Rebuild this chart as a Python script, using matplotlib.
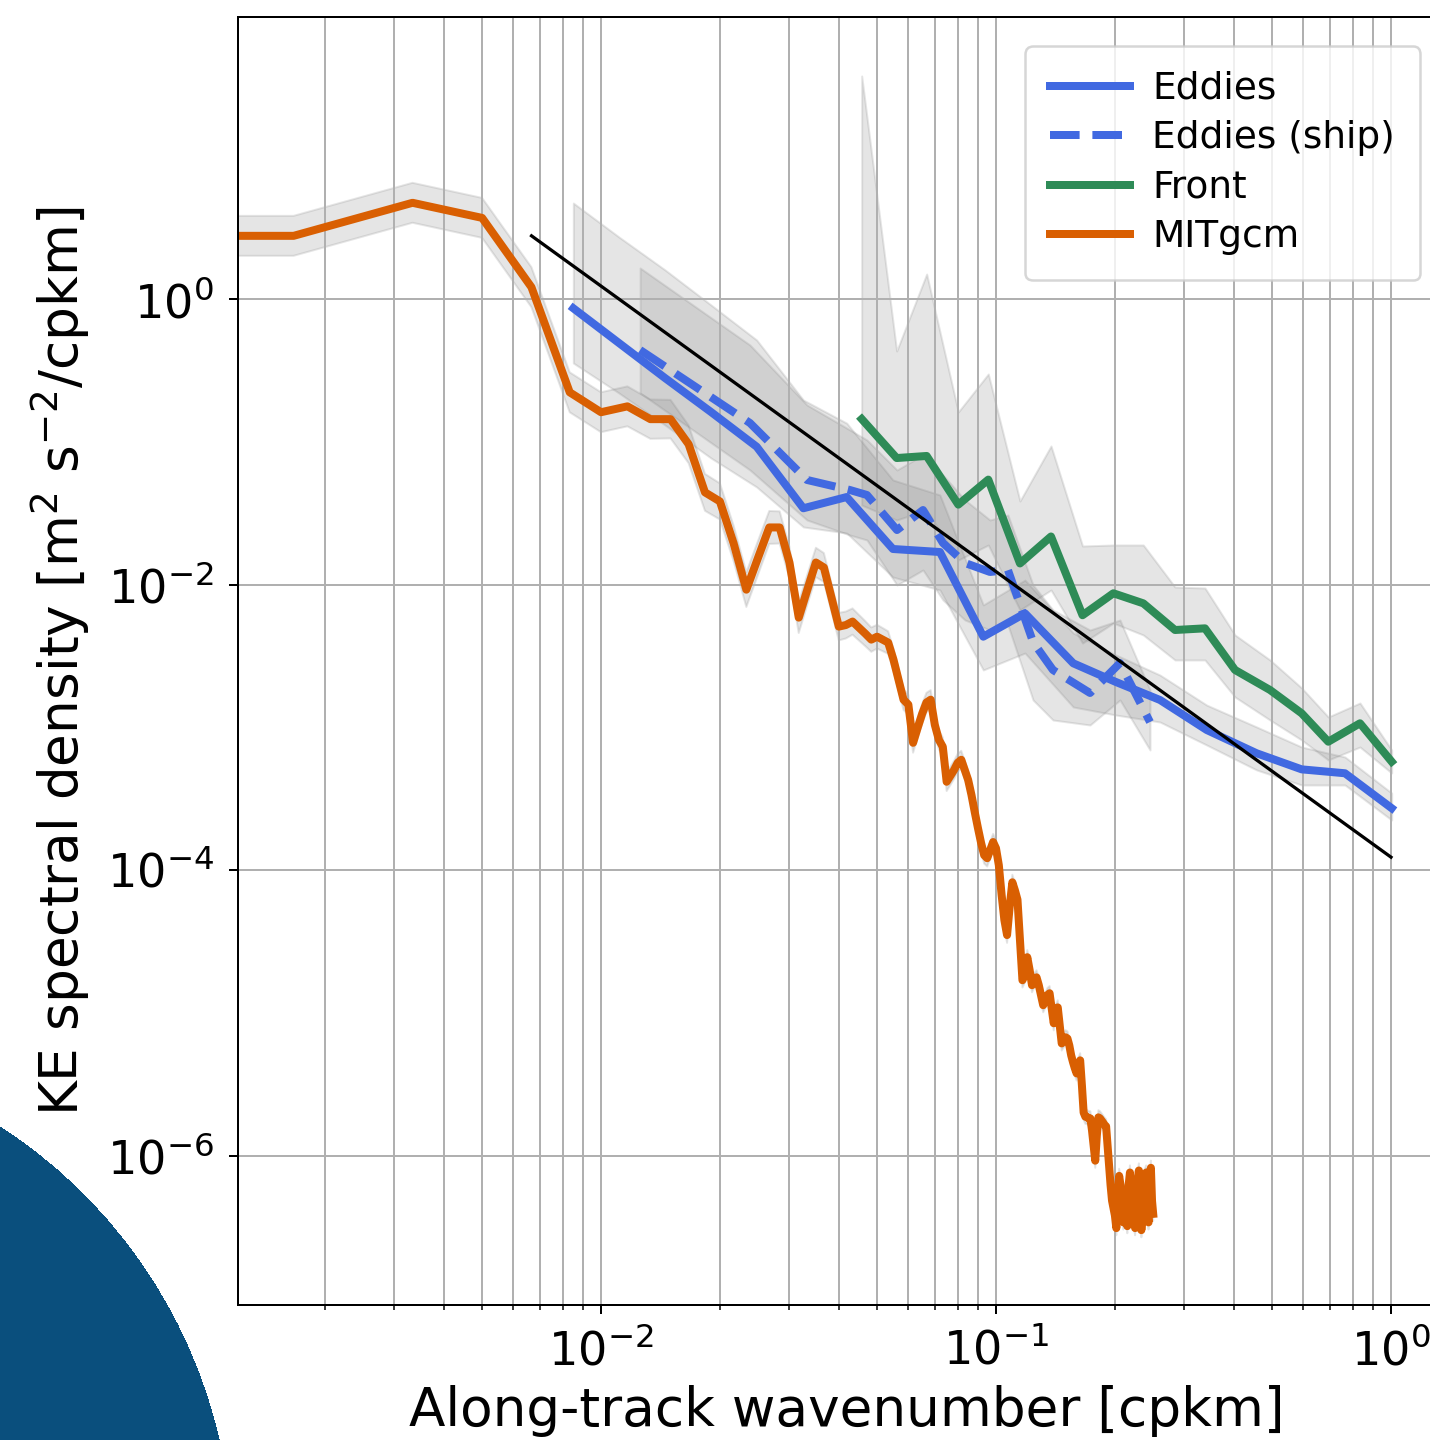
import numpy as np
import matplotlib
matplotlib.use("Agg")
import matplotlib.pyplot as plt
from matplotlib.patches import Circle
from matplotlib.transforms import IdentityTransform
from matplotlib.ticker import NullLocator

# ---------------- data ----------------
# MITgcm: uniformly spaced wavenumbers, dk = 1/600 cpkm
mit_dk = 1.0 / 600.0
mit_psd = [
    2.77, 2.77, 4.72, 3.70, 1.21, 0.222, 0.161, 0.177, 0.144, 0.144,
    0.096, 0.0442, 0.0382, 0.0194, 0.0092, 0.0155, 0.0251, 0.0251, 0.01426, 0.00586,
    0.0093, 0.01426, 0.01316, 0.0081, 0.00507, 0.0052, 0.0055, 0.00498, 0.00453, 0.00411,
    0.00431, 0.00411, 0.00392, 0.00298, 0.00215, 0.00156, 0.00144, 0.000778, 0.00099, 0.00124,
    0.00149, 0.00156, 0.00104, 0.000817, 0.00073, 0.000415, 0.000457, 0.000503, 0.000564, 0.000592,
    0.000503, 0.000428, 0.000336, 0.000255, 0.000197, 0.000155, 0.000127, 0.000121, 0.000138, 0.000157,
    0.000142, 0.000108, 6.68e-5, 4.46e-5, 3.5e-5, 5.6e-5, 8.2e-5, 7.2e-5, 6.2e-5, 3.2e-5,
    1.69e-5, 1.83e-5, 2.45e-5, 1.99e-5, 1.56e-5, 1.69e-5, 1.77e-5, 1.56e-5, 1.33e-5, 1.13e-5,
    1.22e-5, 1.33e-5, 1.37e-5, 1.08e-5, 8.44e-6, 1.01e-5, 1.09e-5, 8.17e-6, 6.1e-6, 6.4e-6,
    6.73e-6, 6.6e-6, 5.9e-6, 5.03e-6, 4.5e-6, 4.08e-6, 3.76e-6, 4.3e-6, 4.64e-6, 3.1e-6,
    2.0e-6, 1.87e-6, 1.86e-6, 1.82e-6, 1.82e-6, 1.5e-6, 1.17e-6, 9.2e-7, 1.38e-6, 1.85e-6,
    1.82e-6, 1.76e-6, 1.7e-6, 1.64e-6, 1.6e-6, 1.17e-6, 8.5e-7, 6.2e-7, 4.83e-7, 4.3e-7,
    3.8e-7, 3.1e-7, 5.2e-7, 7.2e-7, 6.2e-7, 4.1e-7, 3.4e-7, 4.8e-7, 3.8e-7, 3.2e-7,
    6.2e-7, 7.6e-7, 5.6e-7, 4.5e-7, 3.5e-7, 3.1e-7, 4.5e-7, 6.7e-7, 7.85e-7, 4.8e-7,
    3.0e-7, 3.8e-7, 5.2e-7, 7.2e-7, 7.6e-7, 4.1e-7, 3.4e-7, 6.2e-7, 8.2e-7, 4.8e-7,
    3.9e-7,
]
# half-width of the MITgcm confidence band (decades) at a few wavenumbers
mit_band_k = [0.0, 0.012, 0.03, 0.06, 0.12, 0.26]
mit_band_dec = [0.14, 0.14, 0.11, 0.07, 0.05, 0.05]

eddies_k = [0.00851, 0.01110, 0.01452, 0.01899, 0.02478, 0.03253, 0.04188, 0.05483,
            0.07212, 0.09286, 0.1184, 0.1569, 0.2012, 0.2602, 0.3415, 0.4571,
            0.5941, 0.7647, 1.004]
eddies_psd = [0.861, 0.492, 0.2796, 0.1616, 0.0923, 0.0342, 0.0410, 0.01773,
              0.01689, 0.00431, 0.00628, 0.002805, 0.002075, 0.001552, 0.000957, 0.000657,
              0.000507, 0.000476, 0.000271]
eddies_hi = [4.70, 2.72, 1.60, 0.908, 0.516, 0.196, 0.135, 0.0540,
             0.0424, 0.00719, 0.01075, 0.00457, 0.00321, 0.00232, 0.00143, 0.001004,
             0.000727, 0.000619, 0.000346]
eddies_lo = [0.356, 0.2196, 0.1310, 0.0769, 0.0482, 0.0253, 0.02295, 0.01128,
             0.00915, 0.00252, 0.00331, 0.001386, 0.001218, 0.001088, 0.000751, 0.000502,
             0.000394, 0.000394, 0.000224]

ship_k = [0.01256, 0.02383, 0.03323, 0.04269, 0.04713, 0.05615, 0.06534, 0.07340,
          0.08346, 0.09656, 0.1072, 0.1241, 0.1394, 0.1730, 0.2060, 0.2454]
ship_psd = [0.4393, 0.1353, 0.0540, 0.0459, 0.04236, 0.02408, 0.03324, 0.01953,
            0.01415, 0.01224, 0.01264, 0.003956, 0.002518, 0.001738, 0.002819, 0.001088]
ship_hi = [1.649, 0.476, 0.181, 0.1209, 0.1029, 0.0634, 0.0808, 0.0585,
           0.0391, 0.0283, 0.0307, 0.00992, 0.00663, 0.0048, 0.00564, 0.001824]
ship_lo = [0.2196, 0.0634, 0.0283, 0.0222, 0.0205, 0.00992, 0.01264, 0.00779,
           0.00564, 0.0048, 0.0052, 0.001552, 0.001124, 0.001037, 0.001552, 0.000693]

front_k = [0.04571, 0.05604, 0.06675, 0.08027, 0.09561, 0.1150, 0.1378, 0.1656,
           0.1982, 0.2360, 0.2839, 0.3381, 0.4028, 0.4940, 0.5941, 0.6938,
           0.8346, 1.004]
front_psd = [0.1443, 0.0769, 0.0795, 0.03627, 0.05430, 0.01404, 0.02170, 0.00609,
             0.00868, 0.00738, 0.0048, 0.00493, 0.00252, 0.001824, 0.001252, 0.000792,
             0.001066, 0.000574]
front_hi = [36.5, 0.432, 1.496, 0.1616, 0.2983, 0.03845, 0.0934, 0.01861,
            0.01891, 0.01891, 0.0096, 0.00945, 0.00443, 0.00296, 0.001884, 0.00118,
            0.001479, 0.000693]
front_lo = [0.0360, 0.0283, 0.03324, 0.01484, 0.01891, 0.00663, 0.00915, 0.00389,
            0.00537, 0.00443, 0.00296, 0.00296, 0.001629, 0.001124, 0.000814, 0.00059,
            0.000727, 0.000478]

# reference k^-2 slope line (end points)
ref_k = [0.00667, 1.0]
ref_psd = [2.77, 1.23e-4]

labels = ["Eddies", "Eddies (ship)", "Front", "MITgcm"]
c_eddy = "#4169E1"
c_front = "#2E8B57"
c_mit = "#D95F02"

# ---------------- figure ----------------
DPI = 180
W, H = 1430, 1440
fig = plt.figure(figsize=(W / DPI, H / DPI), dpi=DPI)
ax_l, ax_r, ax_t, ax_b = 238, 1455, 17, 1305
ax = fig.add_axes([ax_l / W, (H - ax_b) / H, (ax_r - ax_l) / W, (ax_b - ax_t) / H])
ax.set_xscale("log")
ax.set_yscale("log")

mit_k = np.arange(len(mit_psd)) * mit_dk
mit_psd_a = np.array(mit_psd)
hd = np.interp(mit_k, mit_band_k, mit_band_dec)
band_kw = dict(color="gray", alpha=0.2, lw=0.8)

ax.fill_between(eddies_k, eddies_lo, eddies_hi, **band_kw)
ax.fill_between(ship_k, ship_lo, ship_hi, **band_kw)
ax.fill_between(front_k, front_lo, front_hi, **band_kw)
ax.fill_between(mit_k, mit_psd_a / 10 ** hd, mit_psd_a * 10 ** hd, **band_kw)

LW = 3.2
ax.plot(eddies_k, eddies_psd, color=c_eddy, lw=LW, label=labels[0])
ax.plot(ship_k, ship_psd, color=c_eddy, lw=LW, ls="--", label=labels[1])
ax.plot(front_k, front_psd, color=c_front, lw=LW, label=labels[2])
ax.plot(mit_k, mit_psd_a, color=c_mit, lw=LW, label=labels[3])
ax.plot(ref_k, ref_psd, color="black", lw=1.3)

x0 = 10 ** (-1 + (ax_l - 996) / 395)
x1 = 10 ** (-1 + (ax_r - 996) / 395)
y1 = 10 ** ((299 - ax_t) / 142.75)
y0 = 10 ** (-(ax_b - 299) / 142.75)
ax.set_xlim(x0, x1)
ax.set_ylim(y0, y1)

ax.set_yticks([1e-6, 1e-4, 1e-2, 1e0])
ax.yaxis.set_minor_locator(NullLocator())
ax.grid(True, which="both", axis="x", color="#b0b0b0", lw=0.8)
ax.grid(True, which="major", axis="y", color="#b0b0b0", lw=0.8)
ax.tick_params(axis="both", which="major", labelsize=18.5, pad=6)

ax.set_xlabel("Along-track wavenumber [cpkm]", fontsize=21.3, labelpad=4)
ax.set_ylabel(r"KE spectral density [m$^2$ s$^{-2}$/cpkm]", fontsize=21.3,
              labelpad=6)

ax.legend(loc="upper right", bbox_to_anchor=(1420 / W, 1 - 46 / H),
          bbox_transform=fig.transFigure, borderaxespad=0, fontsize=15,
          handlelength=2.13, handletextpad=0.6, labelspacing=0.36,
          borderpad=0.66)

# dark blue disc in the lower-left corner
fig.add_artist(Circle((-277, H - 1554), 509, transform=IdentityTransform(),
                      facecolor="#0a4f7d", edgecolor="none",
                      antialiased=False, zorder=10))

fig.savefig("out.png", dpi=DPI)
